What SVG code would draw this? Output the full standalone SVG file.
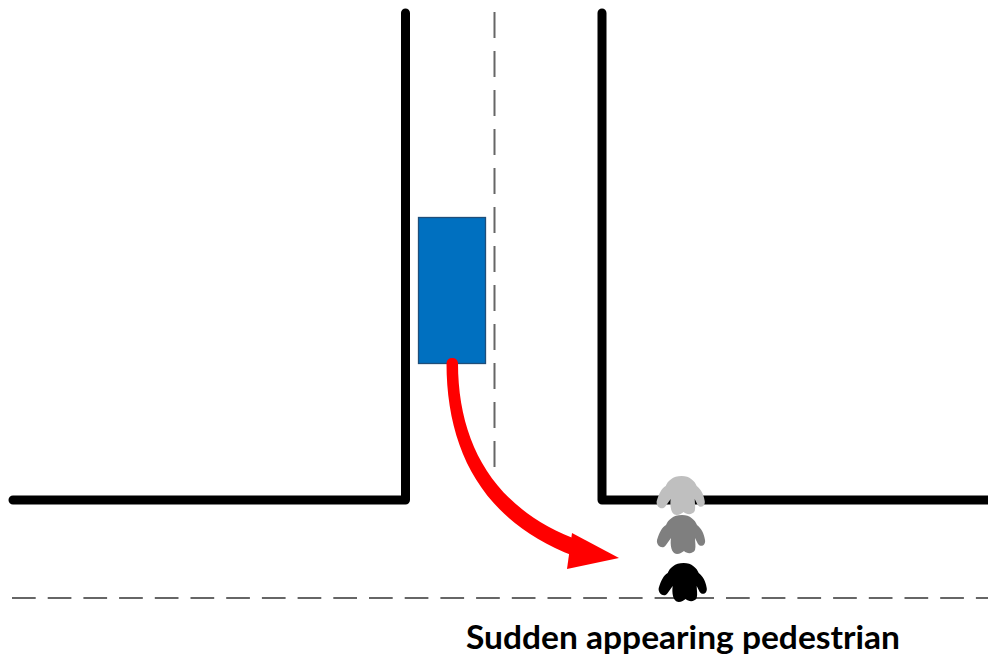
<svg xmlns="http://www.w3.org/2000/svg" width="988" height="657" viewBox="0 0 988 657">
<style>
.wall{fill:none;stroke:#000;stroke-width:9;stroke-linecap:round;stroke-linejoin:round}
.dash{fill:none;stroke:#666;stroke-width:2}
text{font-family:"Lato","Open Sans","Liberation Sans",sans-serif;font-weight:700;font-size:32px;fill:#000}
</style>
<defs>
<path id="person" d="M0 -18C-9 -18 -14 -13 -16 -8C-20 -6 -23 0 -25 7C-26 13 -19 17 -16 12L-11 5C-12 11 -11 21 -5 21C-2 21 0 19 2 18C5 21 11 21 13 17C14 13 13 9 13 5L16 11C19 15 24 12 23 7C22 0 19 -5 15 -8C13 -13 8 -18 0 -18Z"/>
</defs>
<rect width="988" height="657" fill="#fff"/>
<g id="connectors">
<path class="dash" d="M494.500 12V480" stroke-dasharray="26 13"/>
<path class="dash" d="M12 598H988" stroke-dasharray="23.700 12"/>
</g>
<g id="road">
<path class="wall" d="M405.500 13V500H13"/>
<path class="wall" d="M602 13V500H988"/>
</g>
<g id="car"><rect x="418.500" y="217.500" width="67" height="146" fill="#0070c0" stroke="#1f4e79" stroke-width="1.300"/></g>
<g id="arrow">
<path d="M446.500 363A5.800 5.800 0 0 1 458 363C458 446 496 511 581 541L574 556C484 522 446.500 452 446.500 363Z" fill="#f00"/>
<polygon points="572,533 619,558 567,569" fill="#f00"/>
</g>
<g id="pedestrian-1"><use href="#person" x="681.700" y="494" fill="#bfbfbf"/></g>
<g id="pedestrian-2"><use href="#person" x="682" y="533" fill="#7f7f7f"/></g>
<g id="pedestrian-3"><use href="#person" x="683.700" y="581" fill="#000"/></g>
<g id="label"><text x="466" y="649" textLength="434" lengthAdjust="spacingAndGlyphs">Sudden appearing pedestrian</text></g>
</svg>
